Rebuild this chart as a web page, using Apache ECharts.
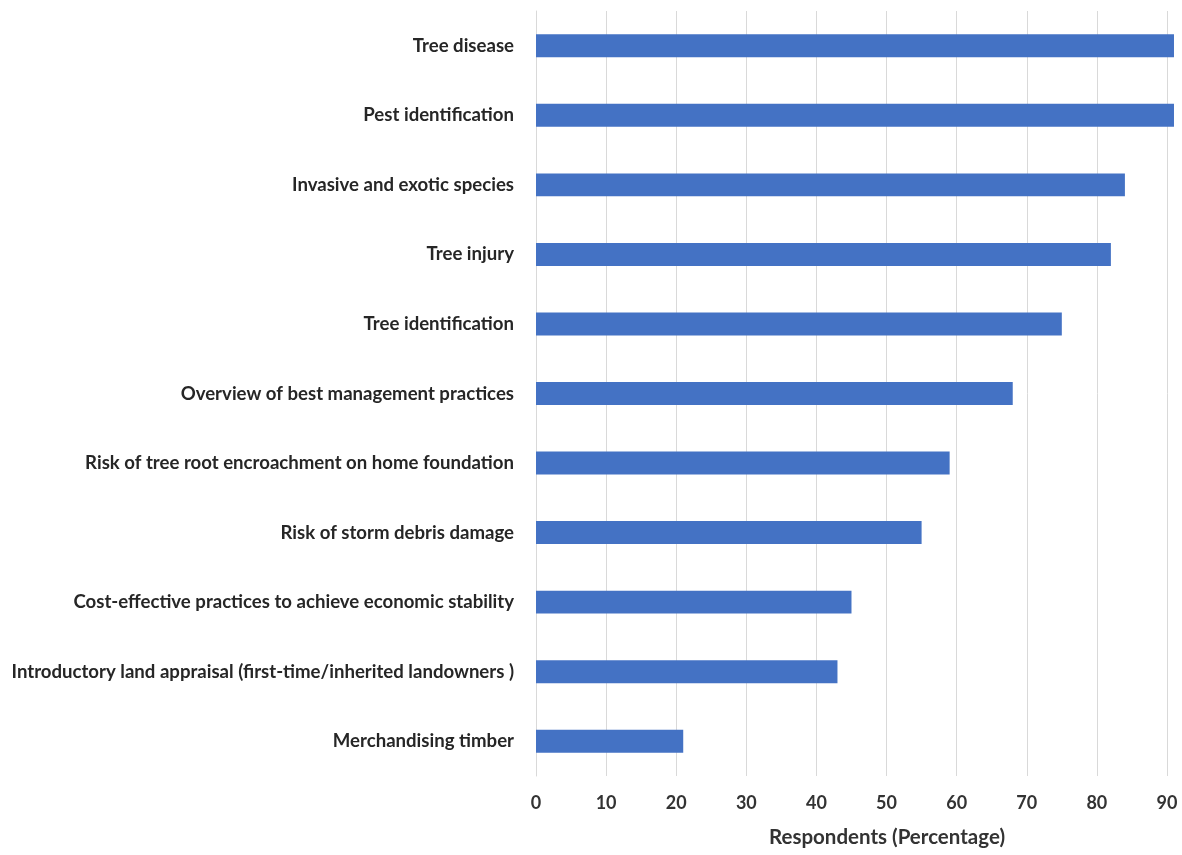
<!DOCTYPE html>
<html>
<head>
<meta charset="utf-8">
<script src="https://cdn.jsdelivr.net/npm/echarts@6/dist/echarts.min.js"></script>
<style>html,body{margin:0;padding:0;background:#fff;}#c{width:1182px;height:855px;}</style>
</head>
<body>
<div id="c"></div>
<script>
const categories = [
  "Tree disease",
  "Pest identification",
  "Invasive and exotic species",
  "Tree injury",
  "Tree identification",
  "Overview of best management practices",
  "Risk of tree root encroachment on home foundation",
  "Risk of storm debris damage",
  "Cost-effective practices to achieve economic stability",
  "Introductory land appraisal (first-time/inherited landowners )",
  "Merchandising timber"
];
const respondents = [91, 91, 84, 82, 75, 68, 59, 55, 45, 43, 21];
const axisName = "Respondents (Percentage)";

const chart = echarts.init(document.getElementById('c'), null, {renderer: 'canvas'});
chart.setOption({
  animation: false,
  backgroundColor: '#ffffff',
  textStyle: {fontFamily: 'Lato, "Open Sans", sans-serif'},
  grid: {left: 536, right: 1, top: 11, bottom: 79},
  xAxis: {
    type: 'value', min: 0, max: 92, interval: 10,
    axisLine: {show: false}, axisTick: {show: false},
    axisLabel: {fontSize: 18, fontWeight: 'bold', color: '#333333', margin: 18, showMaxLabel: false},
    splitLine: {show: true, showMaxLine: false, lineStyle: {color: '#d9d9d9', width: 1}},
    name: axisName, nameLocation: 'middle', nameGap: 51,
    nameTextStyle: {fontSize: 20.5, fontWeight: 'bold', color: '#333333', padding: [0, 0, 0, 57]}
  },
  yAxis: {
    type: 'category', inverse: true, data: categories,
    axisLine: {show: true, lineStyle: {color: '#d9d9d9'}},
    axisTick: {show: false},
    axisLabel: {fontSize: 18.6, fontWeight: 'bold', color: '#262626', margin: 22}
  },
  series: [{
    type: 'bar', data: respondents, barWidth: '33%',
    itemStyle: {color: '#4472c4'}
  }]
});
</script>
</body>
</html>
